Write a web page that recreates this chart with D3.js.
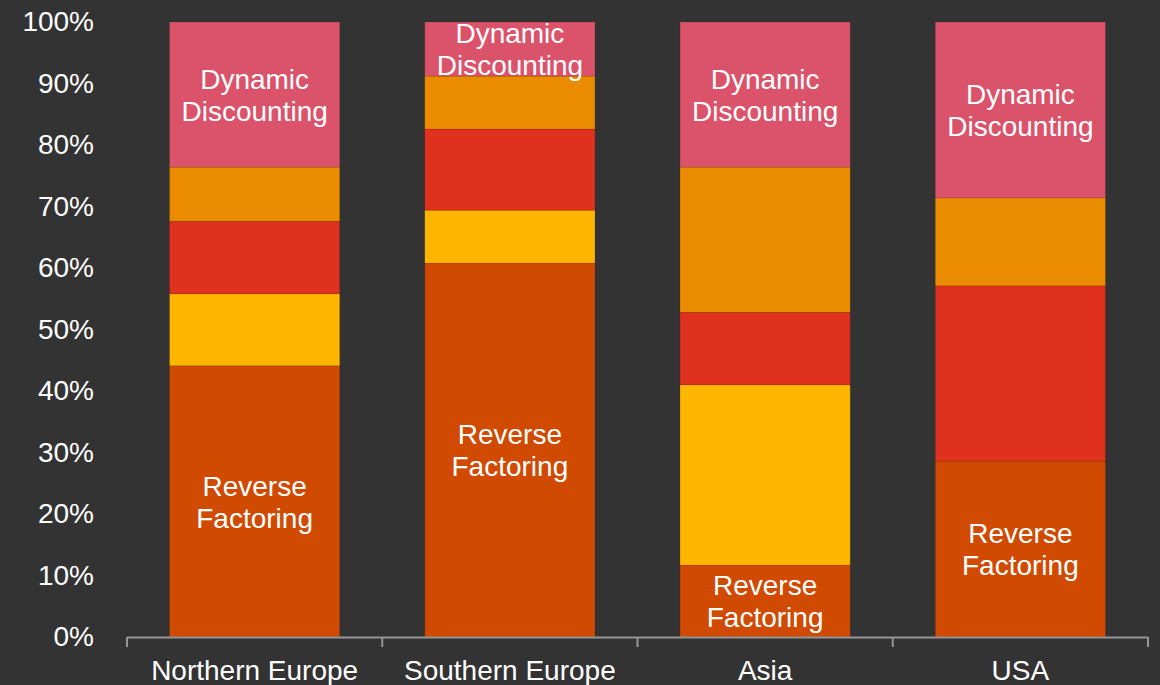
<!DOCTYPE html>
<html>
<head>
<meta charset="utf-8">
<script src="https://cdn.jsdelivr.net/npm/d3@7"></script>
<style>
  body { margin: 0; background: #333333; }
  svg { display: block; font-family: "Liberation Sans", Arial, sans-serif; }
</style>
</head>
<body>
<svg id="chart" width="1160" height="685"></svg>
<script>
// regions along the x axis
var regions = ["Northern Europe", "Southern Europe", "Asia", "USA"];

// share of each financing type per region (bottom to top), in percent
var reverseFactoring   = [44.1, 60.8, 11.7, 28.6];
var yellowSeries       = [11.7,  8.6, 29.3,  0.0];
var redSeries          = [11.8, 13.2, 11.8, 28.5];
var orangeSeries       = [ 8.8,  8.6, 23.6, 14.3];
var dynamicDiscounting = [23.6,  8.8, 23.6, 28.6];

var seriesKeys = ["Reverse Factoring", "Series 2", "Series 3", "Series 4", "Dynamic Discounting"];
var seriesColors = ["#D04A02", "#FFB600", "#E0301E", "#EB8C00", "#DB536A"];
var yTicks = [0, 10, 20, 30, 40, 50, 60, 70, 80, 90, 100];

// build rows for d3.stack
var rows = regions.map(function(r, i) {
  return {
    region: r,
    "Reverse Factoring": reverseFactoring[i],
    "Series 2": yellowSeries[i],
    "Series 3": redSeries[i],
    "Series 4": orangeSeries[i],
    "Dynamic Discounting": dynamicDiscounting[i]
  };
});

var svg = d3.select("#chart");
var fontSize = 28;

var x = d3.scaleBand()
  .domain(regions)
  .range([127, 1148])
  .padding(0);

var y = d3.scaleLinear()
  .domain([0, 100])
  .range([637, 22]);

var color = d3.scaleOrdinal(seriesKeys, seriesColors);

var stacked = d3.stack().keys(seriesKeys)(rows);

var barWidth = x.bandwidth() * 2 / 3;
var barOffset = (x.bandwidth() - barWidth) / 2;

// stacked segments
var layers = svg.append("g")
  .selectAll("g")
  .data(stacked)
  .enter()
  .append("g")
  .attr("fill", function(d) { return color(d.key); });

layers.selectAll("rect")
  .data(function(d) { return d; })
  .enter()
  .append("rect")
  .attr("x", function(d) { return x(d.data.region) + barOffset; })
  .attr("y", function(d) { return y(d[1]); })
  .attr("width", barWidth)
  .attr("height", function(d) { return y(d[0]) - y(d[1]); })
  .attr("stroke", "rgba(0,0,0,0.12)")
  .attr("stroke-width", 0.8);

// two-line labels on the first and last series
var labelled = stacked.filter(function(s) {
  return s.key == "Reverse Factoring" || s.key == "Dynamic Discounting";
});

labelled.forEach(function(s) {
  var lines = s.key.split(" ");
  s.forEach(function(d) {
    var cy = (y(d[0]) + y(d[1])) / 2;
    var t = svg.append("text")
      .attr("x", x(d.data.region) + x.bandwidth() / 2)
      .attr("y", cy)
      .attr("text-anchor", "middle")
      .attr("fill", "#ffffff")
      .style("font-size", fontSize + "px");
    lines.forEach(function(line, i) {
      t.append("tspan")
        .attr("x", x(d.data.region) + x.bandwidth() / 2)
        .attr("y", cy + (i - (lines.length - 1) / 2) * 32)
        .attr("dy", "0.37em")
        .text(line);
    });
  });
});

// y axis labels (no line)
var yAxis = svg.append("g")
  .attr("transform", "translate(94,0)")
  .call(d3.axisLeft(y).tickValues(yTicks).tickSize(0).tickPadding(0)
    .tickFormat(function(d) { return d + "%"; }));
yAxis.select(".domain").remove();
yAxis.selectAll("text")
  .attr("fill", "#ffffff")
  .style("font-size", fontSize + "px")
  .style("font-family", "\"Liberation Sans\", Arial, sans-serif");

// x axis: category labels centred, ticks on band boundaries
var xAxis = svg.append("g")
  .attr("transform", "translate(0,637)")
  .call(d3.axisBottom(x).tickSize(0).tickPadding(35));
xAxis.select(".domain").remove();
xAxis.selectAll("text")
  .attr("fill", "#ffffff")
  .attr("dy", "0.3em")
  .style("font-size", fontSize + "px")
  .style("font-family", "\"Liberation Sans\", Arial, sans-serif");

var boundaries = regions.map(function(r) { return x(r); }).concat([x.range()[1]]);

svg.append("line")
  .attr("x1", x.range()[0])
  .attr("x2", x.range()[1])
  .attr("y1", 637.5)
  .attr("y2", 637.5)
  .attr("stroke", "#969696")
  .attr("stroke-width", 2);

svg.append("g")
  .selectAll("line")
  .data(boundaries)
  .enter()
  .append("line")
  .attr("x1", function(d) { return d; })
  .attr("x2", function(d) { return d; })
  .attr("y1", 637)
  .attr("y2", 647)
  .attr("stroke", "#969696")
  .attr("stroke-width", 2);
</script>
</body>
</html>
